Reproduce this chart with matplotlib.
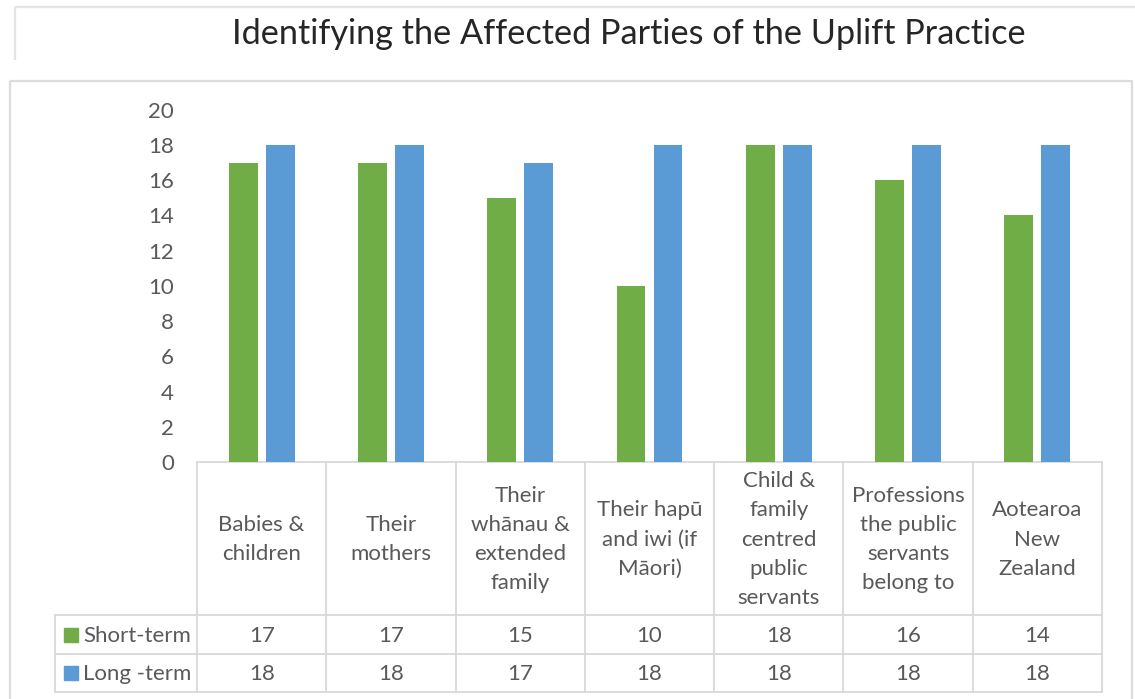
import matplotlib
matplotlib.use("Agg")
import matplotlib.pyplot as plt
import numpy as np

# ---- data ----
title = "Identifying the Affected Parties of the Uplift Practice"
categories = [
    "Babies &\nchildren",
    "Their\nmothers",
    "Their\nwhānau &\nextended\nfamily",
    "Their hapū\nand iwi (if\nMāori)",
    "Child &\nfamily\ncentred\npublic\nservants",
    "Professions\nthe public\nservants\nbelong to",
    "Aotearoa\nNew\nZealand",
]
series_names = ["Short-term", "Long -term"]
short_term = [17, 17, 15, 10, 18, 16, 14]
long_term = [18, 18, 17, 18, 18, 18, 18]
y_ticks = [0, 2, 4, 6, 8, 10, 12, 14, 16, 18, 20]

GREEN = "#70AD47"
BLUE = "#5B9BD5"
TXT = "#595959"
LINE = "#D9D9D9"
FONT = ["Lato", "DejaVu Sans"]
plt.rcParams["font.family"] = FONT

W, H = 1135, 699
fig = plt.figure(figsize=(W / 100, H / 100), dpi=100)

# overlay axes in pixel coordinates (for frames and table)
ov = fig.add_axes([0, 0, 1, 1], zorder=0)
ov.set_xlim(0, W)
ov.set_ylim(H, 0)
ov.axis("off")

# plot area geometry (pixels)
px_left, px_right = 197, 1102
y0_px = 462
y20_px = 462 - 20 * (462 - 145) / 18

ax = fig.add_axes([px_left / W, (H - y0_px) / H, (px_right - px_left) / W, (y0_px - y20_px) / H], zorder=1)
ax.patch.set_alpha(0)
n = len(categories)
x = np.arange(n)
bw = 0.224
off = 0.143
ax.bar(x - off, short_term, bw, color=GREEN, label=series_names[0])
ax.bar(x + off, long_term, bw, color=BLUE, label=series_names[1])
ax.set_xlim(-0.5, n - 0.5)
ax.set_ylim(0, 20)
ax.set_yticks(y_ticks)
ax.set_yticklabels([str(t) for t in y_ticks])
ax.set_xticks([])
for s in ax.spines.values():
    s.set_visible(False)
fs = 16
ax.tick_params(axis="y", length=0, pad=16.5, labelsize=fs, labelcolor=TXT)

# frames
lw = 1.6
ov.plot([14.5, W], [6.5, 6.5], color="#E3E3E3", lw=lw, solid_capstyle="butt")
ov.plot([14.5, 14.5], [6.5, 60], color="#E3E3E3", lw=lw, solid_capstyle="butt")
ov.plot([9.5, 1131.5, 1131.5], [80.5, 80.5, H], color="#DCDCDC", lw=lw, solid_capstyle="butt")
ov.plot([9.5, 9.5], [80.5, H], color="#DCDCDC", lw=lw, solid_capstyle="butt")

# title
ov.text(628.5, 34, title, ha="center", va="center", fontsize=24.7, color="#262626")

# table
tlw = 1.3
cw = (px_right - px_left) / n
rows_y = [615, 654, 692]
ov.plot([px_left, px_right], [y0_px, y0_px], color=LINE, lw=tlw)
for yy in rows_y:
    ov.plot([55, px_right], [yy, yy], color=LINE, lw=tlw)
ov.plot([55, 55], [615, 692], color=LINE, lw=tlw)
for i in range(n + 1):
    xx = px_left + i * cw
    ov.plot([xx, xx], [y0_px, 692], color=LINE, lw=tlw)

for i, lab in enumerate(categories):
    cx = px_left + (i + 0.5) * cw
    ov.text(cx, (y0_px + 615) / 2 + 1, lab, ha="center", va="center", fontsize=fs,
            color=TXT, linespacing=1.57, multialignment="center")
    ov.text(cx, (615 + 654) / 2 + 1, str(short_term[i]), ha="center", va="center", fontsize=fs, color=TXT)
    ov.text(cx, (654 + 692) / 2 + 1, str(long_term[i]), ha="center", va="center", fontsize=fs, color=TXT)

for j, (nm, col) in enumerate(zip(series_names, [GREEN, BLUE])):
    yc = (rows_y[j] + rows_y[j + 1]) / 2
    ov.add_patch(plt.Rectangle((64, yc - 7), 14, 14, color=col))
    ov.text(83, yc + 1, nm, ha="left", va="center", fontsize=fs, color=TXT)

fig.savefig("out.png", dpi=100, facecolor="white")
